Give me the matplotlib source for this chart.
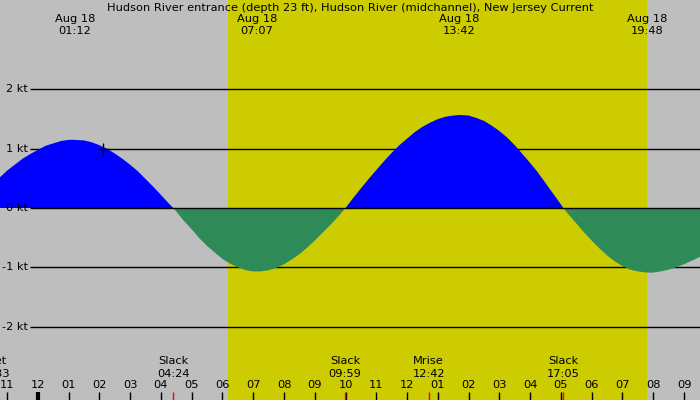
import matplotlib
matplotlib.use("Agg")
import matplotlib.pyplot as plt
import numpy as np

# ---- data (hours after midnight Aug 18, knots) ----
times = [-1.5, -1.25, -1.0, -0.75, -0.5, -0.25, 0.0, 0.25, 0.5, 0.75, 1.0, 1.2,
         1.5, 1.75, 2.0, 2.25, 2.5, 2.75, 3.0, 3.25, 3.5, 3.75, 4.0, 4.25, 4.4,
         4.5, 4.75, 5.0, 5.25, 5.5, 5.75, 6.0, 6.25, 6.5, 6.75, 7.0, 7.11,
         7.25, 7.5, 7.75, 8.0, 8.25, 8.5, 8.75, 9.0, 9.25, 9.5, 9.75, 10.0,
         10.25, 10.5, 10.75, 11.0, 11.25, 11.5, 11.75, 12.0, 12.25, 12.5, 12.75,
         13.0, 13.25, 13.5, 13.72,
         14.0, 14.25, 14.5, 14.75, 15.0, 15.25, 15.5, 15.75, 16.0, 16.25, 16.5,
         16.75, 17.0, 17.08,
         17.25, 17.5, 17.75, 18.0, 18.25, 18.5, 18.75, 19.0, 19.25, 19.5, 19.79,
         20.0, 20.25, 20.5, 20.75, 21.0, 21.25, 21.5, 21.75, 22.0]
speeds = [0.39, 0.51, 0.63, 0.73, 0.83, 0.91, 0.98, 1.05, 1.09, 1.13, 1.15, 1.15,
          1.14, 1.11, 1.06, 1.00, 0.92, 0.83, 0.73, 0.62, 0.49, 0.36, 0.22, 0.08, 0.0,
          -0.06, -0.22, -0.36, -0.51, -0.64, -0.75, -0.86, -0.94, -1.00, -1.05, -1.07, -1.07,
          -1.07, -1.05, -1.01, -0.95, -0.87, -0.78, -0.67, -0.55, -0.42, -0.29, -0.15, 0.0,
          0.17, 0.33, 0.49, 0.64, 0.79, 0.93, 1.06, 1.17, 1.28, 1.37, 1.44,
          1.50, 1.54, 1.56, 1.57,
          1.56, 1.52, 1.47, 1.39, 1.30, 1.19, 1.06, 0.91, 0.76, 0.60, 0.42,
          0.24, 0.06, 0.0,
          -0.11, -0.26, -0.41, -0.55, -0.68, -0.80, -0.90, -0.98, -1.04, -1.07, -1.09,
          -1.09, -1.07, -1.04, -1.00, -0.95, -0.89, -0.83, -0.75, -0.66]

title = "Hudson River entrance (depth 23 ft), Hudson River (midchannel), New Jersey Current"
top_dates = ["Aug 18", "Aug 18", "Aug 18", "Aug 18"]
top_times = ["01:12", "07:07", "13:42", "19:48"]
bottom_names = ["Mset", "Slack", "Slack", "Mrise", "Slack"]
bottom_times = ["22:33", "04:24", "09:59", "12:42", "17:05"]
bottom_day_offset = [-1, 0, 0, 0, 0]
sunrise, sunset = "06:11", "19:48"
hours = list(range(-1, 22))
kt_levels = [-2, -1, 0, 1, 2]
marker_t, marker_v = 2.12, 1.0

def hrs(s, day=0):
    h, m = s.split(":")
    return int(h) + int(m) / 60 + 24 * day

t = np.array(times)
v = np.array(speeds)

W, H = 700, 400
fig = plt.figure(figsize=(7, 4), dpi=100)
ax = fig.add_axes([0, 0, 1, 1])
xmin, xmax = -1.23, 21.52
ymin, ymax = -3.24, 3.51
ax.set_xlim(xmin, xmax)
ax.set_ylim(ymin, ymax)
ax.axis("off")
fig.patch.set_facecolor("#bebebe")
ax.set_facecolor("#bebebe")

FONT = "DejaVu Sans"
FS = 8.2

# daylight
ax.axvspan(hrs(sunrise), hrs(sunset), color="#cccc00", zorder=0, lw=0)

# y grid lines (start after labels)
xline0 = xmin + 30 / W * (xmax - xmin)
for k in kt_levels:
    ax.hlines(k, xline0, xmax, color="black", lw=1, zorder=1 if k != 0 else 4)
    ax.text(xline0 - 2 / W * (xmax - xmin), k, f"{k} kt", ha="right", va="center",
            fontsize=FS, family=FONT, zorder=5)

# current fill
ax.fill_between(t, v, 0, where=v >= 0, interpolate=True, color="#0000ff", lw=0, zorder=2)
ax.fill_between(t, v, 0, where=v <= 0, interpolate=True, color="#2e8b57", lw=0, zorder=2)

ax.plot([marker_t], [marker_v], marker="+", color="black", ms=9, mew=1, zorder=5)

tr = ax.get_xaxis_transform()
def yf(py):
    return 1 - py / H

# title
fig.text(0.5, yf(8), title, ha="center", va="center", fontsize=FS, family=FONT)

# top labels
for d, s in zip(top_dates, top_times):
    x = hrs(s)
    ax.text(x, yf(19), d, transform=tr, ha="center", va="center", fontsize=FS, family=FONT)
    ax.text(x, yf(31), s, transform=tr, ha="center", va="center", fontsize=FS, family=FONT)

# hour ticks and labels
for h in hours:
    lab = f"{(h % 12) or 12:02d}"
    ax.text(h, yf(385), lab, transform=tr, ha="center", va="center", fontsize=FS, family=FONT)
    lw = 3 if h % 24 == 0 else 1
    ax.plot([h, h], [yf(392), yf(400)], transform=tr, color="black", lw=lw,
            solid_capstyle="butt", zorder=6)

# bottom events
for n, s, d in zip(bottom_names, bottom_times, bottom_day_offset):
    x = hrs(s, d)
    ax.text(x, yf(361), n, transform=tr, ha="center", va="center", fontsize=FS, family=FONT)
    ax.text(x, yf(374), s, transform=tr, ha="center", va="center", fontsize=FS, family=FONT)
    ax.plot([x, x], [yf(392), yf(400)], transform=tr, color="red", lw=1,
            solid_capstyle="butt", zorder=7)

fig.savefig("out.png", dpi=100, facecolor=fig.get_facecolor())
